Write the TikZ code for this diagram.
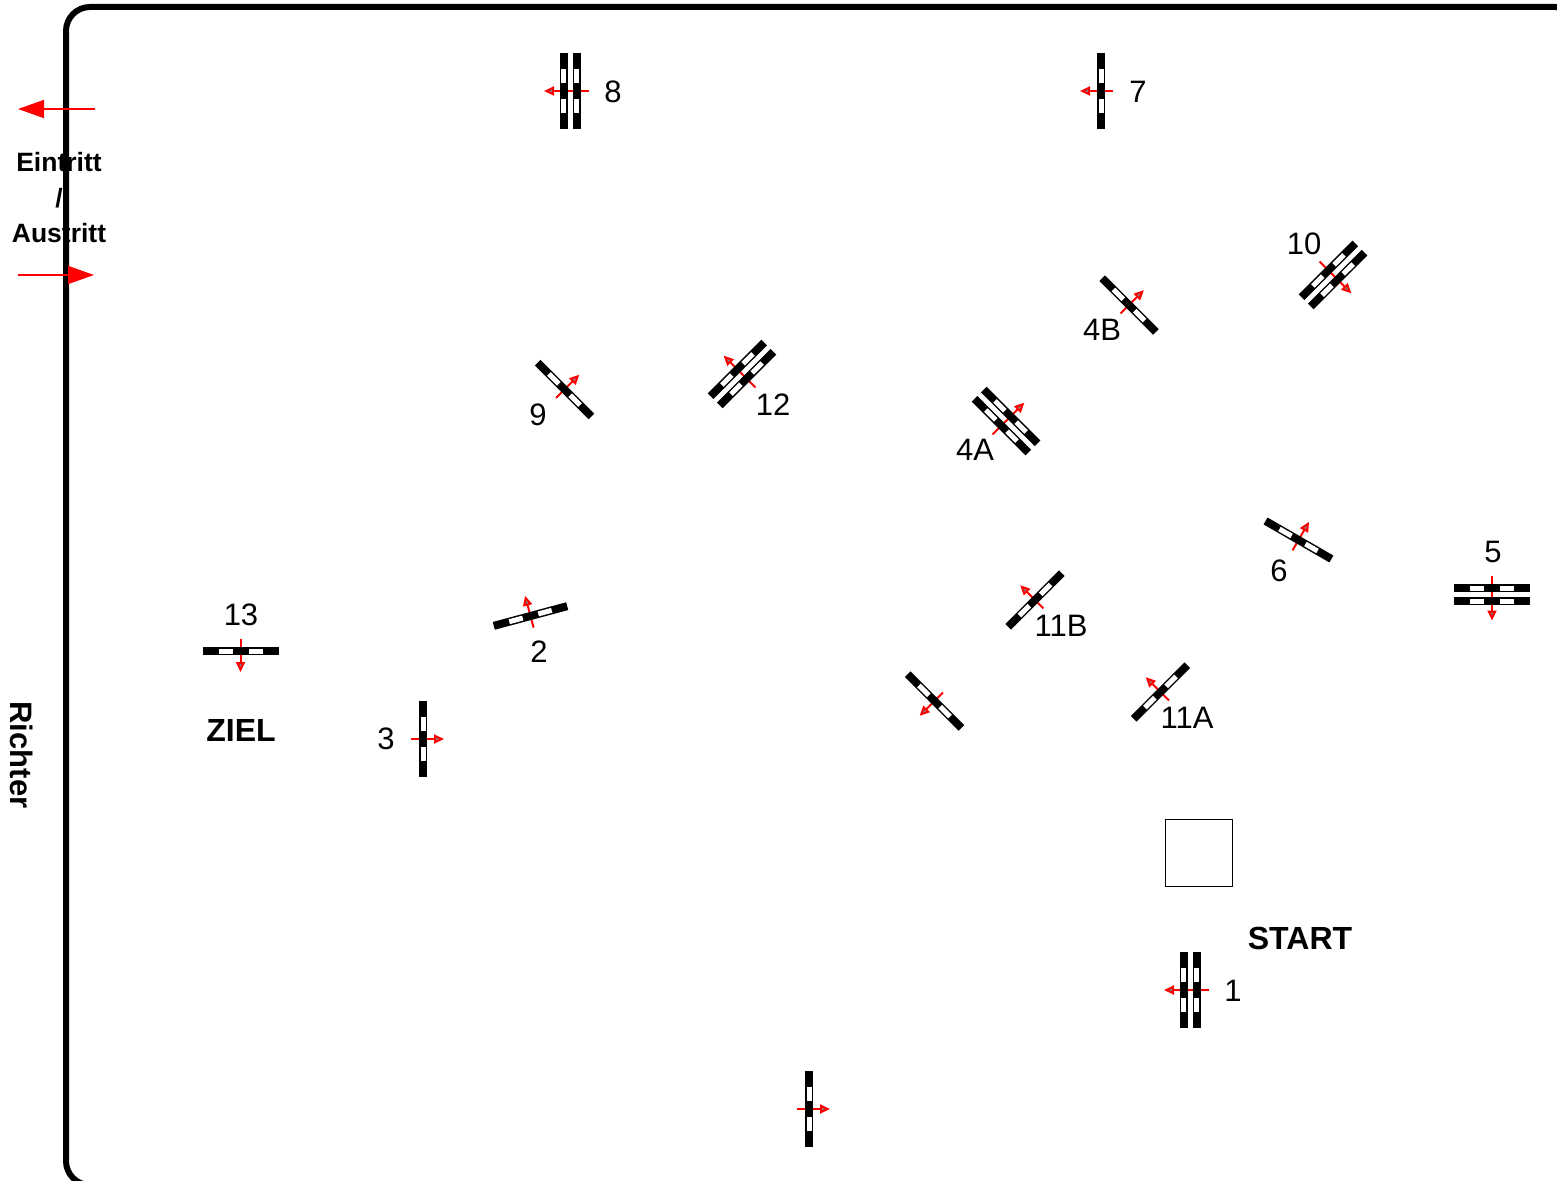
\documentclass[tikz,border=0pt]{standalone}
\usepackage{fontspec}
\setmainfont{Liberation Sans}
\usetikzlibrary{arrows.meta}
\newcommand{\gatebar}[1]{
	\fill (#1-4,-38) rectangle (#1+4,38);
	\fill[white] (#1-2.5,-22) rectangle (#1+2.5,-8);
	\fill[white] (#1-2.5,8) rectangle (#1+2.5,22);
}
\tikzset{
	gatearrow/.style={draw=red, line width=2pt, -{Triangle[length=10pt,width=9pt,fill=gray]}},
	bigarrow/.style={draw=red, fill=red, line width=1.5pt, -{Triangle[length=26pt,width=18pt]}},
	num/.style={font=\fontsize{31}{31}\selectfont, inner sep=0pt, yshift=-1pt},
	word/.style={font=\fontsize{32}{32}\selectfont\bfseries, inner sep=0pt},
	smallword/.style={font=\fontsize{26.5}{26.5}\selectfont\bfseries, inner sep=0pt},
	singlegate/.pic={
		\draw[gatearrow] (-12,0) -- (21,0);
		\gatebar{0}
	},
	doublegate/.pic={
		\draw[gatearrow] (19,0) -- (-26,0);
		\gatebar{-6.5}
		\gatebar{6.5}
	},
}
\begin{document}
\begin{tikzpicture}[x=1pt,y=-1pt]
	\useasboundingbox (0,0) rectangle (1557,1180);
	\clip (0,0) rectangle (1557,1180);
	% gates: x/y/direction of the arrow
	\foreach \x/\y/\a in {1101/91/180, 1129/305/45, 564.5/389.5/45, 1298.5/540/60, 1035/600/135,
		530.5/616/105, 240.5/651/-90, 423/739/0, 934.5/701/225, 1160.5/692/135, 809/1109/0}
		\pic[rotate=\a] at (\x,\y) {singlegate};
	\foreach \x/\y/\a in {570/91/0, 1333/275/135, 742/374/-45, 1006/421/225, 1492/594.5/90, 1190/990/0}
		\pic[rotate=\a] at (\x,\y) {doublegate};
	% gate numbers
	\foreach \name/\x/\y/\t in {one/1233/990/1, two/539/651/2, three/386/738/3, fourA/975/449/4A, fourB/1102/329/4B,
		five/1493/551/5, six/1279/570/6, seven/1138/91/7, eight/613/91/8, nine/538/414/9, ten/1304/243/10,
		elevenA/1187/717/11A, elevenB/1061/625/11B, twelve/773/404/12, thirteen/241/614/13}
		\node[num] (\name) at (\x,\y) {\t};
	\draw[line width=1pt] (1165,819) rectangle (1232,886);
	\node[word] (start) at (1300,938) {START};
	\node[word] (ziel) at (241,730) {ZIEL};
	\node[word, font=\fontsize{31}{31}\selectfont\bfseries, rotate=-90] (richter) at (21.5,755) {Richter};
	\node[smallword] (eintritt) at (59,162) {Eintritt};
	\node[smallword] (slash) at (59,198) {/};
	\node[smallword] (austritt) at (59,233) {Austritt};
	% arena
	\draw[line width=6pt, rounded corners=24pt] (66,7) rectangle (1579,1185);
	\coordinate (inA) at (95,109);
	\coordinate (inB) at (18,109);
	\coordinate (outA) at (18,275);
	\coordinate (outB) at (94,275);
	\draw[bigarrow] (inA) -- (inB);
	\draw[bigarrow] (outA) -- (outB);
\end{tikzpicture}
\end{document}
